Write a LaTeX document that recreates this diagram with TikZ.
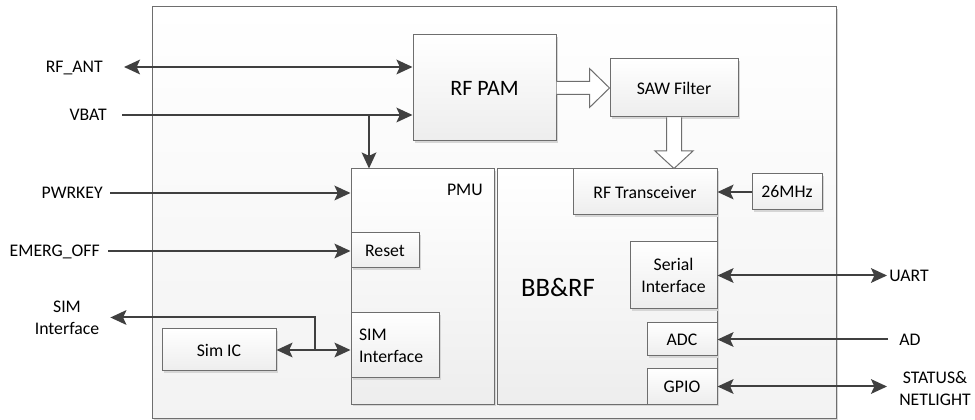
\documentclass[tikz,border=0pt]{standalone}
\usepackage{fontspec}
\setmainfont{Carlito}
\usetikzlibrary{arrows.meta,shadows,calc}
\definecolor{boxline}{HTML}{6E6E6E}
\definecolor{linec}{HTML}{404040}
\definecolor{shadowc}{HTML}{D6D6D6}
\newcommand{\fs}{\fontsize{13.3}{16.5}\selectfont}
\tikzset{
 sz/.style 2 args={minimum width=#1*0.75pt,minimum height=#2*0.75pt},
 blk/.style={draw=boxline,line width=0.75pt,top color=white,bottom color=black!7,inner sep=0pt,font=\fs,
   drop shadow={shadow xshift=1.5pt,shadow yshift=-1.5pt,fill=shadowc,opacity=1}},
 lbl/.style={font=\fs,inner sep=0pt,text height=8.4pt,text depth=0pt,text=black},
 mlbl/.style={font=\fs,inner sep=0pt,align=center},
 tip/.style={},
 lnk/.style={draw=linec,line width=1.5pt,-{Stealth[length=12pt,width=11pt,inset=2.5pt]}},
 dlnk/.style={lnk,{Stealth[length=12pt,width=11pt,inset=2.5pt]}-{Stealth[length=12pt,width=11pt,inset=2.5pt]}},
 hollow/.style={draw=boxline,line width=0.75pt,fill=white,line join=miter}
}
\begin{document}
\begin{tikzpicture}[x=0.75pt,y=-0.75pt]
\useasboundingbox (0,0) rectangle (975,420);
% outer module
\node[blk,sz={684}{411},bottom color=black!5] (module) at (494,212.5) {};
% blocks
\node[blk,sz={143}{106},font=\fontsize{16.5}{20}\selectfont] (rfpam) at (484.5,88) {RF PAM};
\node[blk,sz={128}{58}] (saw) at (674,88) {SAW Filter};
\node[blk,sz={143}{235}] (pmu) at (422.5,286.5) {};
\node[blk,sz={220}{235}] (bbrf) at (607,286.5) {};
\node[blk,sz={144}{46}] (rftr) at (645,192) {RF Transceiver};
\node[blk,sz={70}{36}] (osc) at (787,192) {26MHz};
\node[blk,sz={68}{35}] (reset) at (385,250.5) {Reset};
\node[blk,sz={88}{65},text width=54pt,inner xsep=6pt,align=left] (simif) at (395,345.5) {SIM\\Interface};
\node[blk,sz={114}{42}] (simic) at (219,350) {Sim IC};
\node[blk,sz={87}{67},align=center] (serial) at (673.5,275.5) {Serial\\Interface};
\node[blk,sz={70}{33}] (adc) at (682,339.5) {ADC};
\node[blk,sz={70}{35}] (gpio) at (682,386.5) {GPIO};
\node[lbl,anchor=east] (pmut) at (483,190) {PMU};
\node[font=\fontsize{20}{24}\selectfont,inner sep=0pt] (bbt) at (558,287) {BB\&RF};
% external labels
\node[lbl,anchor=east] (rfant) at (103,67) {RF\_ANT};
\node[lbl,anchor=east] (vbat) at (107,115) {VBAT};
\node[lbl,anchor=east] (pwrkey) at (103,193) {PWRKEY};
\node[lbl,anchor=east] (emerg) at (100,251) {EMERG\_OFF};
\node[mlbl] (simlbl) at (67,317.5) {SIM\\Interface};
\node[lbl,anchor=west] (uart) at (889,275.5) {UART};
\node[lbl,anchor=west] (ad) at (899,340) {AD};
\node[mlbl,anchor=west] (stat) at (899,389) {STATUS\&\\NETLIGHT};
% connectors
\coordinate (vbj) at (369,115);
\coordinate (sj) at (315,351);
\draw[dlnk] ($(rfant.east)+(21,0)$) -- (rfant.east -| rfpam.west);
\draw[lnk] ($(vbat.east)+(15,0)$) -- (vbat.east -| rfpam.west);
\draw[lnk] (vbj) -- (vbj |- pmu.north);
\draw[lnk] ($(pwrkey.east)+(7,0)$) -- (pwrkey.east -| pmu.west);
\draw[lnk] ($(emerg.east)+(8,0)$) -- (emerg.east -| reset.west);
\draw[dlnk] (simic.east) -- (simic.east -| simif.west);
\draw[lnk] (sj) -- (sj |- simlbl.east) -- ($(simlbl.east)+(11,0)$);
\draw[lnk] (osc.west) -- (rftr.east);
\draw[dlnk] (serial.east) -- ($(serial.east -| uart.west)+(-2,0)$);
\draw[lnk] ($(adc.east -| ad.west)+(-11,0)$) -- (adc.east);
\draw[dlnk] (gpio.east) -- ($(gpio.east -| stat.west)+(-12,0)$);
% hollow arrows
\draw[hollow] ($(rfpam.east)+(0,-6.5)$) -- ($(saw.west)+(-20,-6.5)$) -- ($(saw.west)+(-20,-19.5)$) -- (saw.west)
  -- ($(saw.west)+(-20,19.5)$) -- ($(saw.west)+(-20,6.5)$) -- ($(rfpam.east)+(0,6.5)$);
\coordinate (dtip) at (saw.south |- rftr.north);
\draw[hollow] ($(saw.south)+(-7.5,0)$) -- ($(dtip)+(-7.5,-17.5)$) -- ($(dtip)+(-19,-17.5)$) -- (dtip)
  -- ($(dtip)+(19,-17.5)$) -- ($(dtip)+(7.5,-17.5)$) -- ($(saw.south)+(7.5,0)$);
\end{tikzpicture}
\end{document}
